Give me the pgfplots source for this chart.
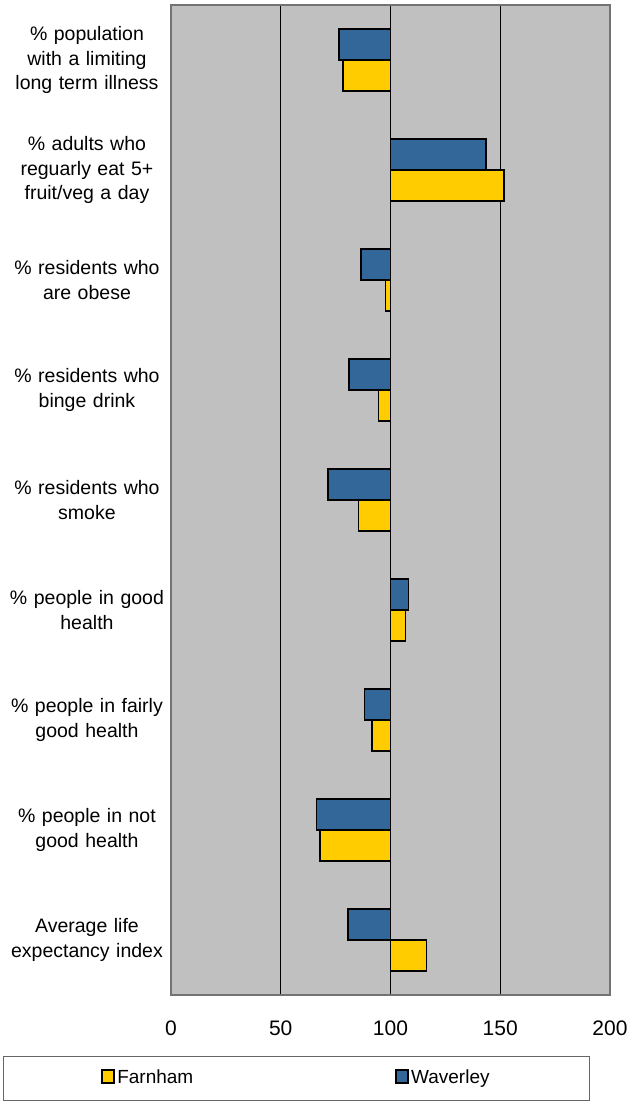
\documentclass[border=0pt]{standalone}
\usepackage{pgfplots}
\pgfplotsset{compat=1.18}
\usepackage{pgfplotstable}
\usepackage{fontspec}
\setmainfont{Liberation Sans}
\definecolor{wav}{RGB}{51,102,153}
\definecolor{far}{RGB}{255,204,0}
\definecolor{plotbg}{RGB}{192,192,192}
\pgfplotstableread{
cat waverley farnham
1 76.5 78.3
2 143.4 151.6
3 86.5 97.7
4 81.2 94.5
5 71.6 85.4
6 108.2 106.8
7 88.2 91.6
8 66.3 67.8
9 80.7 116.4
}\data
\begin{document}
\begin{tikzpicture}
\path[use as bounding box] (0pt,0pt) rectangle (633pt,-1101pt);
\begin{axis}[
  at={(171pt,-995pt)}, anchor=south west,
  scale only axis, width=439pt, height=990pt,
  xmin=-100, xmax=100, ymin=0.5, ymax=9.5,
  y dir=reverse,
  axis background/.style={fill=plotbg},
  axis line style={draw=black!55, line width=1.5pt},
  xtick={-100,-50,0,50,100},
  xticklabels={0,50,100,150,200},
  xmajorgrids, grid style={black, line width=0.8pt},
  major tick length=0pt,
  ytick={1,...,9},
  yticklabels={{\% population\\with a limiting\\long term illness},
    {\% adults who\\reguarly eat 5+\\fruit/veg a day},
    {\% residents who\\are obese},
    {\% residents who\\binge drink},
    {\% residents who\\smoke},
    {\% people in good\\health},
    {\% people in fairly\\good health},
    {\% people in not\\good health},
    {Average life\\expectancy index}},
  yticklabel style={align=center, text width=161pt, font=\fontsize{19.5}{24.3}\selectfont},
  xticklabel style={font=\fontsize{21}{25}\selectfont, yshift=-22pt},
  /pgf/number format/assume math mode=true,
  legend columns=2,
  legend style={at={(axis description cs:-0.3827,-0.0616)}, anchor=north west,
    draw=black!60, line width=1pt, fill=white,
    inner xsep=98pt, inner ysep=11pt,
    font=\fontsize{19}{23}\selectfont,
    nodes={inner xsep=2pt, inner ysep=2pt, text height=13.6pt, text depth=4pt},
    /tikz/every even column/.append style={column sep=200pt}},
  legend image code/.code={\draw[#1, line width=1.8pt] (0pt,-4.3pt) rectangle (12pt,8.3pt);},
]
\addplot[xbar, bar width=0.28, bar shift=0.14, fill=far, draw=black, line width=1.5pt]
  table[x expr=\thisrow{farnham}-100, y=cat] {\data};
\addplot[xbar, bar width=0.28, bar shift=-0.14, fill=wav, draw=black, line width=1.5pt]
  table[x expr=\thisrow{waverley}-100, y=cat] {\data};
\legend{Farnham,Waverley}
\end{axis}
\end{tikzpicture}
\end{document}
